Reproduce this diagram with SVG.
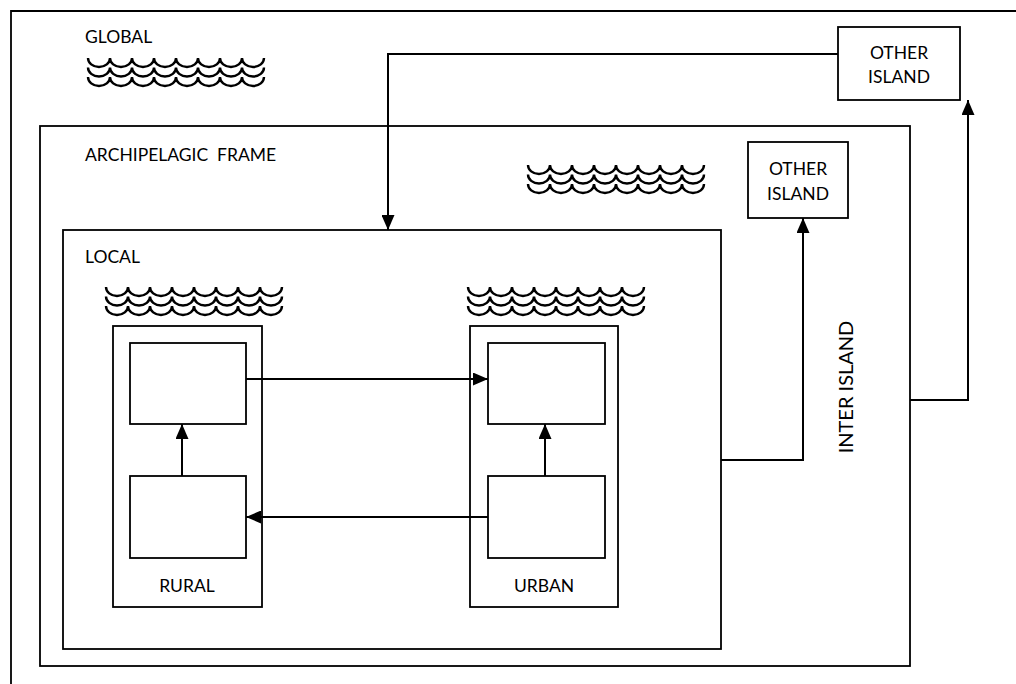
<svg xmlns="http://www.w3.org/2000/svg" width="1016" height="684" viewBox="0 0 1016 684">
  <style>
    .box { fill: #fff; stroke: #000; stroke-width: 1.8; }
    .frame { fill: none; stroke: #000; stroke-width: 1.8; }
    .wire { fill: none; stroke: #000; stroke-width: 2; }
    .wave { fill: none; stroke: #000; stroke-width: 2.4; }
    .label { font-family: Lato, "Liberation Sans", sans-serif; font-size: 17.5px; fill: #000; }
    .mid { text-anchor: middle; }
    .vert { font-size: 20px; }
  </style>
  <defs>
    <marker id="arrow" markerWidth="15" markerHeight="13" viewBox="0 0 15 13" refX="15" refY="6.5" orient="auto" markerUnits="userSpaceOnUse">
      <path d="M0,0 L15,6.5 L0,13 Z" fill="#000"/>
    </marker>
    <!-- one row of eight scallops, 22px each -->
    <path id="waveRow" class="wave" d="M0,0 a11,9 0 0 0 22,0 a11,9 0 0 0 22,0 a11,9 0 0 0 22,0 a11,9 0 0 0 22,0 a11,9 0 0 0 22,0 a11,9 0 0 0 22,0 a11,9 0 0 0 22,0 a11,9 0 0 0 22,0"/>
    <g id="waves">
      <use href="#waveRow" y="0"/>
      <use href="#waveRow" y="9.5"/>
      <use href="#waveRow" y="19"/>
    </g>
  </defs>

  <rect width="1016" height="684" fill="#fff"/>

  <!-- global frame (open to the right and bottom) -->
  <g id="global">
    <path class="frame" d="M11,684 V11 H1016"/>
    <text class="label" x="85" y="43">GLOBAL</text>
    <use href="#waves" x="88" y="58"/>
  </g>

  <g id="archipelagic">
    <rect class="frame" x="40" y="126" width="870" height="540"/>
    <text class="label" x="85" y="161" xml:space="preserve">ARCHIPELAGIC  FRAME</text>
    <use href="#waves" x="528" y="165"/>
  </g>

  <g id="local">
    <rect class="frame" x="63" y="230" width="658" height="419"/>
    <text class="label" x="85" y="263">LOCAL</text>
    <use href="#waves" x="106" y="287"/>
    <use href="#waves" x="468" y="287"/>
  </g>

  <g id="rural">
    <rect class="box" x="113" y="326" width="149" height="281"/>
    <text class="label mid" x="187" y="592">RURAL</text>
  </g>
  <g id="rural-upper"><rect class="box" x="130" y="343" width="116" height="81"/></g>
  <g id="rural-lower"><rect class="box" x="130" y="476" width="116" height="82"/></g>

  <g id="urban">
    <rect class="box" x="470" y="326" width="148" height="281"/>
    <text class="label mid" x="544" y="592">URBAN</text>
  </g>
  <g id="urban-upper"><rect class="box" x="488" y="343" width="117" height="81"/></g>
  <g id="urban-lower"><rect class="box" x="488" y="476" width="117" height="82"/></g>

  <g id="other-island-near">
    <rect class="box" x="748" y="142" width="100" height="76"/>
    <text class="label mid" x="798" y="175">OTHER</text>
    <text class="label mid" x="798" y="200">ISLAND</text>
  </g>

  <g id="other-island-far">
    <rect class="box" x="838" y="27" width="122" height="73"/>
    <text class="label mid" x="899" y="59">OTHER</text>
    <text class="label mid" x="899" y="83">ISLAND</text>
  </g>

  <text class="label mid vert" transform="translate(853,387) rotate(-90)">INTER ISLAND</text>

  <g id="connectors">
    <path class="wire" d="M246,379 H488" marker-end="url(#arrow)"/>
    <path class="wire" d="M488,517 H246" marker-end="url(#arrow)"/>
    <path class="wire" d="M182,476 V424" marker-end="url(#arrow)"/>
    <path class="wire" d="M545,476 V424" marker-end="url(#arrow)"/>
    <path class="wire" d="M721,460 H803 V218" marker-end="url(#arrow)"/>
    <path class="wire" d="M910,400 H968 V100" marker-end="url(#arrow)"/>
    <path class="wire" d="M838,54 H388 V230" marker-end="url(#arrow)"/>
  </g>
</svg>
